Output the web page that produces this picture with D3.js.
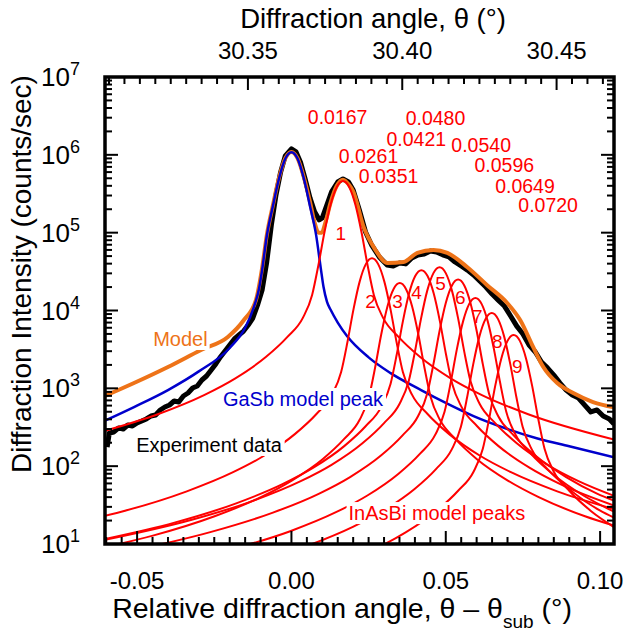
<!DOCTYPE html>
<html><head><meta charset="utf-8">
<script src="https://cdn.jsdelivr.net/npm/d3@7"></script>
<style>
body{margin:0;background:#fff}
svg{display:block}
text{font-family:Arial,"Liberation Sans",sans-serif}
</style>
</head><body>
<svg id="chart" width="627" height="638"></svg>
<script>
// ---------- tick labels ----------
const xTickValues = [-0.05, 0.00, 0.05, 0.10];
const xTickLabels = ["-0.05", "0.00", "0.05", "0.10"];
const topTickValues = [30.35, 30.40, 30.45];
const topTickLabels = ["30.35", "30.40", "30.45"];
const yTickValues = [1e1, 1e2, 1e3, 1e4, 1e5, 1e6, 1e7];
const yTickExponents = ["1", "2", "3", "4", "5", "6", "7"];
const thetaSub = 30.3641;

// ---------- experiment data (x, counts/sec) ----------
const experimentData = [
[-0.0597,176],[-0.0590,267],[-0.0575,275],[-0.0560,310],[-0.0545,300],[-0.0530,338],[-0.0515,328],[-0.0500,359],
[-0.0485,380],[-0.0470,404],[-0.0455,441],[-0.0440,454],[-0.0425,527],[-0.0410,576],[-0.0395,611],[-0.0380,687],
[-0.0365,667],[-0.0350,797],[-0.0335,871],[-0.0320,1010],[-0.0305,1070],[-0.0290,1280],[-0.0275,1440],[-0.0260,1720],
[-0.0245,2060],[-0.0230,2530],[-0.0215,3020],[-0.0200,3610],[-0.0185,4310],[-0.0170,4840],[-0.0155,5450],[-0.0140,6510],
[-0.0125,8010],[-0.0110,11700],[-0.0095,18300],[-0.0080,42000],[-0.0065,126000],[-0.0050,305000],[-0.0035,600000],
[-0.0020,970000],[0.0000,1190000],[0.0015,1090000],[0.0030,790000],[0.0045,480000],[0.0060,280000],[0.0075,185000],
[0.0090,146000],[0.0100,155000],[0.0115,227000],[0.0130,334000],[0.0150,448000],[0.0167,490000],[0.0185,448000],
[0.0200,353000],[0.0220,196000],[0.0240,102000],[0.0260,69000],[0.0285,48500],[0.0310,38500],[0.0330,37300],
[0.0350,40800],[0.0370,39700],[0.0390,47300],[0.0410,51700],[0.0430,53000],[0.0450,58000],[0.0470,56500],
[0.0490,52000],[0.0510,49000],[0.0530,42000],[0.0550,37300],[0.0570,33000],[0.0590,28600],[0.0610,24000],
[0.0630,20000],[0.0650,16300],[0.0670,13600],[0.0690,11400],[0.0710,8500],[0.0730,6300],[0.0750,5000],
[0.0770,3600],[0.0790,2930],[0.0810,2180],[0.0830,1820],[0.0850,1480],[0.0870,1170],[0.0890,950],[0.0910,820],
[0.0930,750],[0.0950,610],[0.0970,497],[0.0990,527],[0.1010,441],[0.1030,404],[0.1045,348]];

// ---------- total model ----------
const modelData = [
[-0.0604,800],[-0.0510,1170],[-0.0400,1880],[-0.0293,3110],[-0.0206,4570],[-0.0154,7550],[-0.0115,13600],
[-0.0095,35000],[-0.0080,92000],[-0.0060,225000],[-0.0040,510000],[-0.0020,900000],[0.0000,1090000],
[0.0020,900000],[0.0040,520000],[0.0060,250000],[0.0075,135000],[0.0088,100000],[0.0098,100000],[0.0110,135000],
[0.0127,245000],[0.0147,400000],[0.0167,480000],[0.0187,410000],[0.0200,340000],[0.0234,118000],[0.0270,62000],
[0.0311,40700],[0.0363,42000],[0.0408,55000],[0.0460,60000],[0.0505,55000],[0.0570,36000],[0.0635,21000],
[0.0699,12500],[0.0741,7550],[0.0783,3400],[0.0816,1880],[0.0861,1170],[0.0913,870],[0.0977,667],[0.1045,570]];

// ---------- GaSb model peak ----------
const gasbPeak = [
[-0.0604,385],[-0.0510,575],[-0.0400,950],[-0.0300,1650],[-0.0200,3300],[-0.0150,6000],[-0.0122,11000],
[-0.0105,19000],[-0.0095,33000],[-0.0080,90000],[-0.0060,220000],[-0.0040,500000],[-0.0020,890000],[0.0000,1080000],
[0.0020,890000],[0.0040,500000],[0.0060,220000],[0.0080,93000],[0.0095,35000],[0.0104,20000],[0.0115,13000],
[0.0127,10200],[0.0150,7000],[0.0180,4700],[0.0250,2500],[0.0320,1580],[0.0420,950],[0.0500,650],[0.0590,440],
[0.0700,300],[0.0800,225],[0.0900,180],[0.1045,130]];

// ---------- InAsBi model peaks ----------
const inasbiPeak1 = [[-0.0604,285],[-0.0433,465],[-0.0283,819],[-0.0183,1334],[-0.0083,2521],[-0.0013,4577],[0.0037,8050],[0.0067,15824],[0.0087,37628],[0.0107,101200],[0.0127,230000],[0.0147,385940],[0.0167,460000],[0.0187,385940],[0.0207,230000],[0.0227,101200],[0.0247,37628],[0.0267,15824],[0.0297,8050],[0.0347,4577],[0.0417,2521],[0.0517,1334],[0.0617,819],[0.0767,465],[0.1045,220]];
const inasbiPeak2 = [[-0.0604,23.1],[-0.0539,26.8],[-0.0339,47.5],[-0.0189,83.7],[-0.0089,136],[0.0011,258],[0.0081,468],[0.0131,823],[0.0161,1617],[0.0181,3845],[0.0201,10340],[0.0221,23500],[0.0241,39430],[0.0261,47000],[0.0281,39430],[0.0301,23500],[0.0321,10340],[0.0341,3845],[0.0361,1617],[0.0391,823],[0.0441,468],[0.0511,258],[0.0611,136],[0.0711,83.7],[0.0861,47.5],[0.1045,28.1]];
const inasbiPeak3 = [[-0.0604,9.1],[-0.0449,12.8],[-0.0249,22.7],[-0.0099,40],[0.0001,65.3],[0.0101,123],[0.0171,224],[0.0221,394],[0.0251,774],[0.0271,1840],[0.0291,4950],[0.0311,11250],[0.0331,18880],[0.0351,22500],[0.0371,18880],[0.0391,11250],[0.0411,4950],[0.0431,1840],[0.0451,774],[0.0481,394],[0.0531,224],[0.0601,123],[0.0701,65.3],[0.0801,40],[0.0951,22.7],[0.1045,17.2]];
const inasbiPeak4 = [[-0.0604,11.6],[-0.0379,18.8],[-0.0179,33.3],[-0.0029,58.7],[0.0071,95.7],[0.0171,181],[0.0241,328],[0.0291,578],[0.0321,1135],[0.0341,2700],[0.0361,7260],[0.0381,16500],[0.0401,27690],[0.0421,33000],[0.0441,27690],[0.0461,16500],[0.0481,7260],[0.0501,2700],[0.0521,1135],[0.0551,578],[0.0601,328],[0.0671,181],[0.0771,95.7],[0.0871,58.7],[0.1045,31.2]];
const inasbiPeak5 = [[-0.0604,11.3],[-0.0320,20.6],[-0.0120,36.4],[0.0030,64.1],[0.0130,104],[0.0230,197],[0.0300,358],[0.0350,630],[0.0380,1238],[0.0400,2945],[0.0420,7920],[0.0440,18000],[0.0460,30200],[0.0480,36000],[0.0500,30200],[0.0520,18000],[0.0540,7920],[0.0560,2945],[0.0580,1238],[0.0610,630],[0.0660,358],[0.0730,197],[0.0830,104],[0.0930,64.1],[0.1045,41.5]];
const inasbiPeak6 = [[-0.0604,7.0],[-0.0260,14.3],[-0.0060,25.3],[0.0090,44.5],[0.0190,72.5],[0.0290,137],[0.0360,249],[0.0410,438],[0.0440,860],[0.0460,2045],[0.0480,5500],[0.0500,12500],[0.0520,20980],[0.0540,25000],[0.0560,20980],[0.0580,12500],[0.0600,5500],[0.0620,2045],[0.0640,860],[0.0670,438],[0.0720,249],[0.0790,137],[0.0890,72.5],[0.0990,44.5],[0.1045,36.1]];
const inasbiPeak7 = [[-0.0604,3.7],[-0.0204,8.3],[-0.0004,14.6],[0.0146,25.8],[0.0246,42],[0.0346,79.5],[0.0416,144],[0.0466,254],[0.0496,499],[0.0516,1186],[0.0536,3190],[0.0556,7250],[0.0576,12170],[0.0596,14500],[0.0616,12170],[0.0636,7250],[0.0656,3190],[0.0676,1186],[0.0696,499],[0.0726,254],[0.0776,144],[0.0846,79.5],[0.0946,42],[0.1045,26]];
const inasbiPeak8 = [[-0.0604,2.2],[-0.0151,5.3],[0.0049,9.4],[0.0199,16.6],[0.0299,27],[0.0399,51],[0.0469,92.5],[0.0519,163],[0.0549,320],[0.0569,761],[0.0589,2046],[0.0609,4650],[0.0629,7800],[0.0649,9300],[0.0669,7800],[0.0689,4650],[0.0709,2046],[0.0729,761],[0.0749,320],[0.0779,163],[0.0829,92.5],[0.0899,51],[0.0999,27],[0.1045,21.8]];
const inasbiPeak9 = [[-0.0604,1.0],[-0.0080,2.77],[0.0120,4.9],[0.0270,8.6],[0.0370,14.1],[0.0470,26.6],[0.0540,48.3],[0.0590,84.9],[0.0620,167],[0.0640,397],[0.0660,1067],[0.0680,2425],[0.0700,4070],[0.0720,4850],[0.0740,4070],[0.0760,2425],[0.0780,1067],[0.0800,397],[0.0820,167],[0.0850,84.9],[0.0900,48.3],[0.0970,26.6],[0.1045,16.5]];
const inasbiPeaks = [inasbiPeak1, inasbiPeak2, inasbiPeak3, inasbiPeak4, inasbiPeak5, inasbiPeak6, inasbiPeak7, inasbiPeak8, inasbiPeak9];

// ---------- annotations ----------
const peakNumbers = ["1","2","3","4","5","6","7","8","9"];
const peakNumberPos = [[0.0160,99000],[0.0256,12900],[0.0344,12900],[0.0405,16800],[0.0483,22500],[0.0547,14500],[0.0602,8260],[0.0667,3940],[0.0732,1880]];
const compositionLabels = ["0.0167","0.0261","0.0351","0.0421","0.0480","0.0540","0.0596","0.0649","0.0720"];
const compositionPos = [[0.0053,2.49e6],[0.0153,7.85e5],[0.0218,4.35e5],[0.0308,1.30e6],[0.0370,2.45e6],[0.0518,1.08e6],[0.0593,6.05e5],[0.0660,3.25e5],[0.0735,1.85e5]];
const seriesLabels = ["Model", "GaSb model peak", "Experiment data", "InAsBi model peaks"];
const seriesLabelPos = [[-0.0448,3500],[-0.0222,593],[-0.0503,152],[0.0185,20.3]];
const seriesLabelColors = ["#ee7318", "#0000cc", "#000000", "#ff0000"];

// ---------- layout ----------
const W = 627, H = 638;
const m = {left:105, right:13, top:77, bottom:94};
const pw = W - m.left - m.right, ph = H - m.top - m.bottom;
const svg = d3.select("#chart");
const g = svg.append("g").attr("transform", `translate(${m.left},${m.top})`);

const x = d3.scaleLinear().domain([-0.0604, 0.1045]).range([0, pw]);
const xTop = d3.scaleLinear().domain([-0.0604 + thetaSub, 0.1045 + thetaSub]).range([0, pw]);
const y = d3.scaleLog().domain([10, 1e7]).range([ph, 0]);

svg.append("defs").append("clipPath").attr("id","clip")
  .append("rect").attr("width", pw).attr("height", ph);

const plot = g.append("g").attr("clip-path","url(#clip)");
const line = d3.line().x(d => x(d[0])).y(d => y(Math.max(d[1], 0.5)));
const smooth = d3.line().x(d => x(d[0])).y(d => y(Math.max(d[1], 0.5))).curve(d3.curveMonotoneX);

plot.append("path").datum(experimentData).attr("d", line)
  .attr("fill","none").attr("stroke","#000").attr("stroke-width",5).attr("stroke-linejoin","round");
plot.append("path").datum(modelData).attr("d", smooth)
  .attr("fill","none").attr("stroke","#ee7318").attr("stroke-width",4);
plot.append("path").datum(gasbPeak).attr("d", smooth)
  .attr("fill","none").attr("stroke","#0000cc").attr("stroke-width",2.5);
plot.selectAll(".peak").data(inasbiPeaks).join("path").attr("class","peak")
  .attr("d", smooth).attr("fill","none").attr("stroke","#ff0000").attr("stroke-width",2);

// ---------- series labels with white boxes ----------
seriesLabels.forEach((t, i) => {
  const p = seriesLabelPos[i];
  const tx = g.append("text").attr("x", x(p[0])).attr("y", y(p[1]))
    .attr("font-size", 20).attr("fill", seriesLabelColors[i]).text(t);
  const bb = tx.node().getBBox();
  g.insert("rect", () => tx.node()).attr("x", bb.x - 2).attr("y", bb.y).attr("width", bb.width + 4)
    .attr("height", bb.height).attr("fill", "#fff");
});

peakNumbers.forEach((t, i) => {
  g.append("text").attr("x", x(peakNumberPos[i][0])).attr("y", y(peakNumberPos[i][1]))
    .attr("text-anchor","middle").attr("dominant-baseline","central")
    .attr("font-size", 19).attr("fill", "#ff0000").text(t);
});
compositionLabels.forEach((t, i) => {
  g.append("text").attr("x", x(compositionPos[i][0])).attr("y", y(compositionPos[i][1]))
    .attr("font-size", 19.5).attr("fill", "#ff0000").text(t);
});

// ---------- axes / ticks ----------
const ax = g.append("g").attr("stroke","#000").attr("stroke-width",2);
const xMinor = d3.range(-0.060, 0.1046, 0.005).map(v => +v.toFixed(3));
xMinor.forEach(v => {
  const major = xTickValues.some(t => Math.abs(t - v) < 1e-6);
  const len = major ? 13 : 7;
  ax.append("line").attr("x1", x(v)).attr("x2", x(v)).attr("y1", ph).attr("y2", ph - len);
});
const topMinor = d3.range(30.305, 30.470, 0.005).map(v => +v.toFixed(3)).filter(v => v >= xTop.domain()[0] && v <= xTop.domain()[1]);
topMinor.forEach(v => {
  const major = topTickValues.some(t => Math.abs(t - v) < 1e-6);
  const len = major ? 13 : 7;
  ax.append("line").attr("x1", xTop(v)).attr("x2", xTop(v)).attr("y1", 0).attr("y2", len);
});
for (let e = 1; e <= 7; e++) {
  for (let k = 1; k <= 9; k++) {
    const v = k * Math.pow(10, e);
    if (v > 1e7) break;
    const len = k === 1 ? 13 : 7;
    ax.append("line").attr("x1", 0).attr("x2", len).attr("y1", y(v)).attr("y2", y(v));
    ax.append("line").attr("x1", pw).attr("x2", pw - len).attr("y1", y(v)).attr("y2", y(v));
  }
}
g.append("rect").attr("width", pw).attr("height", ph).attr("fill","none")
  .attr("stroke","#000").attr("stroke-width",3.5);

// tick labels
xTickValues.forEach((v, i) => {
  g.append("text").attr("x", x(v)).attr("y", ph + 45).attr("text-anchor","middle")
    .attr("font-size", 24).text(xTickLabels[i]);
});
topTickValues.forEach((v, i) => {
  g.append("text").attr("x", xTop(v)).attr("y", -18).attr("text-anchor","middle")
    .attr("font-size", 24).text(topTickLabels[i]);
});
yTickValues.forEach((v, i) => {
  const t = g.append("text").attr("x", -25).attr("y", y(v) + 9).attr("text-anchor","end").attr("font-size", 26);
  t.append("tspan").text("10");
  t.append("tspan").attr("dy", -11).attr("font-size", 18).text(yTickExponents[i]);
});

// axis titles
const bt = svg.append("text").attr("x", 342).attr("y", 618).attr("text-anchor","middle").attr("font-size", 28.5);
bt.append("tspan").text("Relative diffraction angle, θ – θ");
bt.append("tspan").attr("dy", 10).attr("font-size", 19).text("sub");
bt.append("tspan").attr("dy", -10).text(" (°)");

svg.append("text").attr("x", 373).attr("y", 28).attr("text-anchor","middle").attr("font-size", 27.5)
  .text("Diffraction angle, θ (°)");

svg.append("text").attr("transform", "translate(31,274) rotate(-90)").attr("text-anchor","middle")
  .attr("font-size", 28).text("Diffraction Intensity (counts/sec)");
</script>
</body></html>
